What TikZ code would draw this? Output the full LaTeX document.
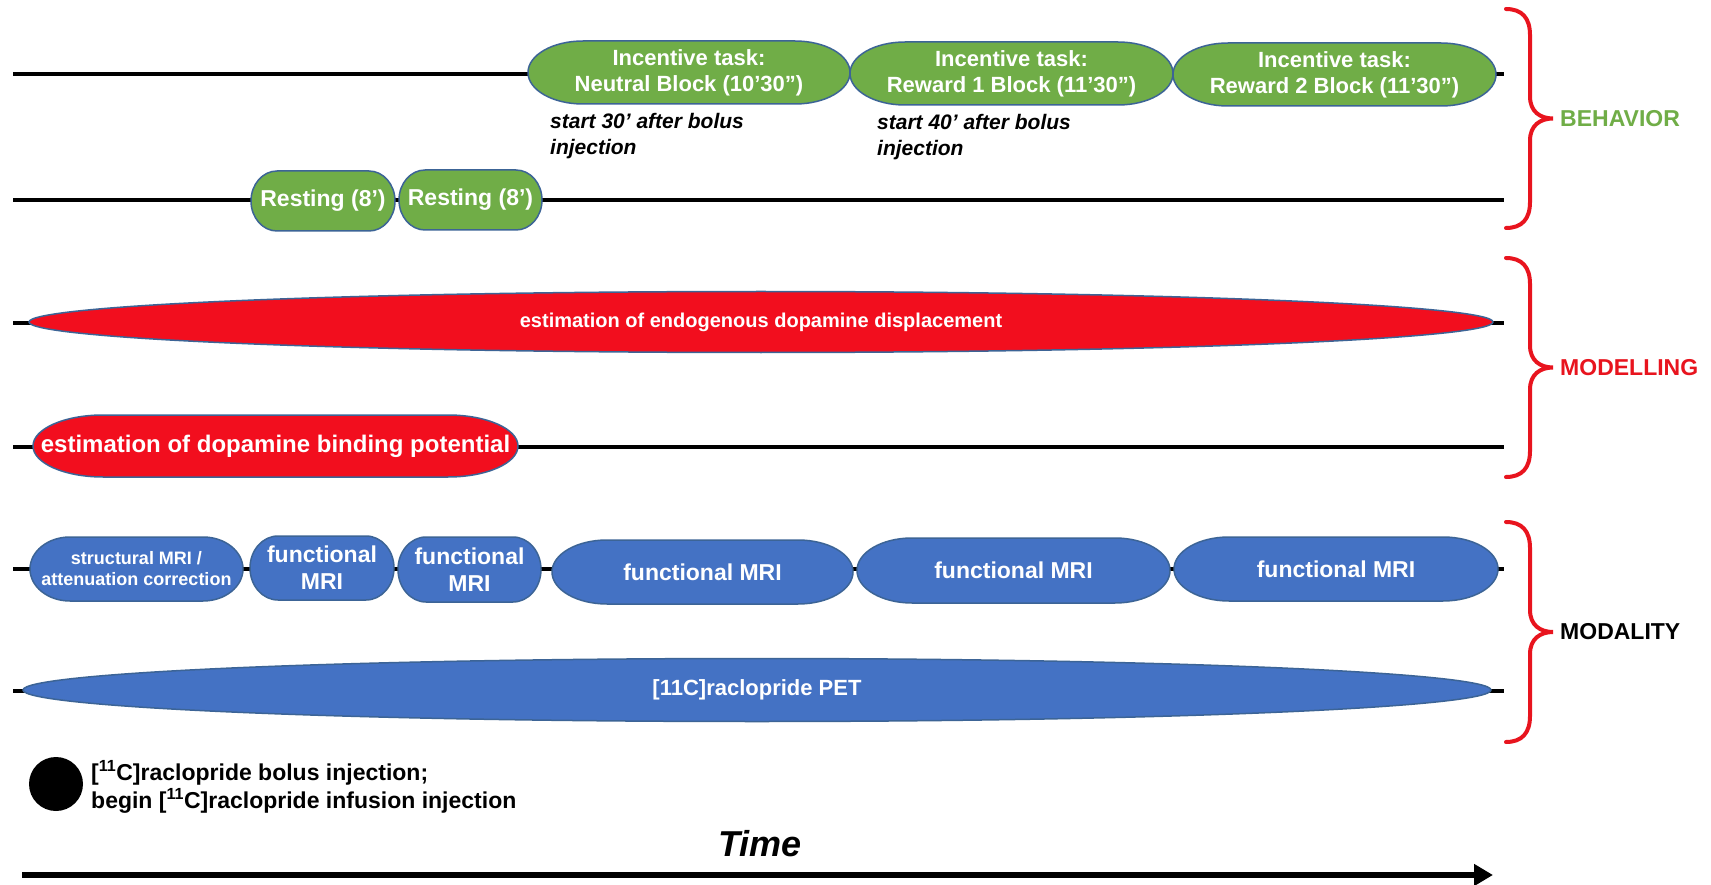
\documentclass[tikz,border=0pt]{standalone}
\usepackage{fontspec}
\setmainfont{Liberation Sans}
\usetikzlibrary{shapes.geometric,arrows.meta}
\definecolor{gfill}{RGB}{112,173,71}
\definecolor{bfill}{RGB}{68,114,196}
\definecolor{rfill}{RGB}{242,14,30}
\definecolor{edgec}{RGB}{60,100,150}
\definecolor{bracered}{RGB}{232,20,30}
\definecolor{labgreen}{RGB}{112,173,71}
\newcommand{\pill}[9]{%
  \pgfmathsetmacro{\pry}{(#5-#4)/2}%
  \pgfmathsetmacro{\pbs}{#8*1.17}%
  \path[#7] ({#2+#6},{-#4}) -- ({#3-#6},{-#4})
     arc[start angle=90,end angle=-90,x radius=#6pt,y radius=\pry pt]
     -- ({#2+#6},{-#5})
     arc[start angle=270,end angle=90,x radius=#6pt,y radius=\pry pt] -- cycle;
  \node[intxt,font=\bfseries\fontsize{#8}{\pbs}\selectfont] (#1) at ({(#2+#3)/2},{-(#4+#5)/2}) {#9};
}
\newcommand{\curly}[3]{%
  \pgfmathsetmacro{\cm}{(#1+#2)/2}%
  \draw[brace] (1506,{-#1}) .. controls (1522,{-#1}) and (1530,{-#1-9}) .. (1530,{-#1-26})
     -- (1530,{-\cm+22}) .. controls (1530,{-\cm+7}) and (1540,{-\cm}) .. (1553,{-\cm})
     .. controls (1540,{-\cm}) and (1530,{-\cm-7}) .. (1530,{-\cm-22})
     -- (1530,{-#2+26}) .. controls (1530,{-#2+9}) and (1522,{-#2}) .. (1506,{-#2});
  \coordinate (#3) at (1553,{-\cm});
}
\begin{document}
\begin{tikzpicture}[x=1pt,y=1pt,
  tline/.style={line width=3.5pt,black},
  gpill/.style={fill=gfill,draw=edgec,line width=1.5pt},
  bpill/.style={fill=bfill,draw=edgec,line width=1.5pt},
  rpill/.style={fill=rfill,draw=edgec,line width=1.5pt},
  intxt/.style={text=white,align=center,inner sep=0pt},
  note/.style={font=\bfseries\itshape\fontsize{21}{26}\selectfont,align=left,anchor=north west,inner sep=0pt},
  brace/.style={draw=bracered,line width=4pt,line cap=round},
  grp/.style={font=\bfseries\fontsize{23}{27}\selectfont,anchor=west,inner sep=0pt}]
\useasboundingbox[fill=white] (0,0) rectangle (1711,-885);
% timelines
\foreach \n/\yy in {1/74,2/200,3/323,4/447,5/569,6/691}{
  \coordinate (s\n) at (13,-\yy);
  \coordinate (e\n) at (1504,-\yy);
  \draw[tline] (s\n) -- (e\n);
}
% behaviour
\pill{neutral}{528}{850}{41}{104}{55}{gpill}{22}{Incentive task:\\Neutral Block (10’30”)}
\pill{rewa}{850}{1173}{42}{105}{55}{gpill}{22}{Incentive task:\\Reward 1 Block (11’30”)}
\pill{rewb}{1173}{1496}{43}{106}{55}{gpill}{22}{Incentive task:\\Reward 2 Block (11’30”)}
\node[note] (n30) at (550,-113) {start 30’ after bolus\\injection};
\node[note] (n40) at (877,-114) {start 40’ after bolus\\injection};
\pill{resta}{251}{395}{171}{231}{26}{gpill}{23}{Resting (8’)}
\pill{restb}{399}{542}{170}{230}{26}{gpill}{23}{Resting (8’)}
% modelling
\node[ellipse,fill=rfill,draw=edgec,line width=1.5pt,minimum width=1464pt,minimum height=61pt,inner sep=0pt,
  text=white,font=\bfseries\fontsize{20}{24}\selectfont] (endo) at (761,-322) {estimation of endogenous dopamine displacement};
\pill{bind}{33}{518}{415}{477}{70}{rpill}{24}{estimation of dopamine binding potential}
% modality
\pill{smri}{30}{243}{537}{601}{40}{bpill}{18}{structural MRI /\\attenuation correction}
\pill{fa}{250}{394}{536}{600}{28}{bpill}{23}{functional\\MRI}
\pill{fb}{398}{541}{537}{602}{28}{bpill}{23}{functional\\MRI}
\pill{fc}{552}{853}{540}{604}{55}{bpill}{23}{functional MRI}
\pill{fd}{857}{1170}{538}{603}{55}{bpill}{23}{functional MRI}
\pill{fe}{1174}{1498}{537}{601}{55}{bpill}{23}{functional MRI}
\node[ellipse,fill=bfill,draw=edgec,line width=1.5pt,minimum width=1468pt,minimum height=63pt,inner sep=0pt,
  text=white,font=\bfseries\fontsize{22}{26}\selectfont] (pet) at (757,-690) {[11C]raclopride PET};
% braces
\curly{9}{228}{tb}
\curly{258}{477}{tm}
\curly{522}{742}{td}
\node[grp,text=labgreen] (beh) at ([xshift=7pt]tb) {BEHAVIOR};
\node[grp,text=bracered] (mod) at ([xshift=7pt]tm) {MODELLING};
\node[grp,text=black] (moda) at ([xshift=7pt]td) {MODALITY};
% legend
\node[circle,fill=black,minimum size=54pt,inner sep=0pt] (dot) at (56,-784) {};
\node[anchor=north west,align=left,inner sep=0pt,font=\bfseries\fontsize{23}{28}\selectfont] (leg) at (91,-760)
  {[\textsuperscript{11}C]raclopride bolus injection;\\begin [\textsuperscript{11}C]raclopride infusion injection};
% time
\coordinate (ta) at (22,-875);
\coordinate (tz) at (1493,-875);
\draw[line width=6.5pt,-{Triangle[length=19pt,width=21pt]}] (ta) -- (tz);
\node[anchor=base,inner sep=0pt,font=\bfseries\itshape\fontsize{36}{40}\selectfont] (time) at (760,-856) {Time};
\end{tikzpicture}
\end{document}
